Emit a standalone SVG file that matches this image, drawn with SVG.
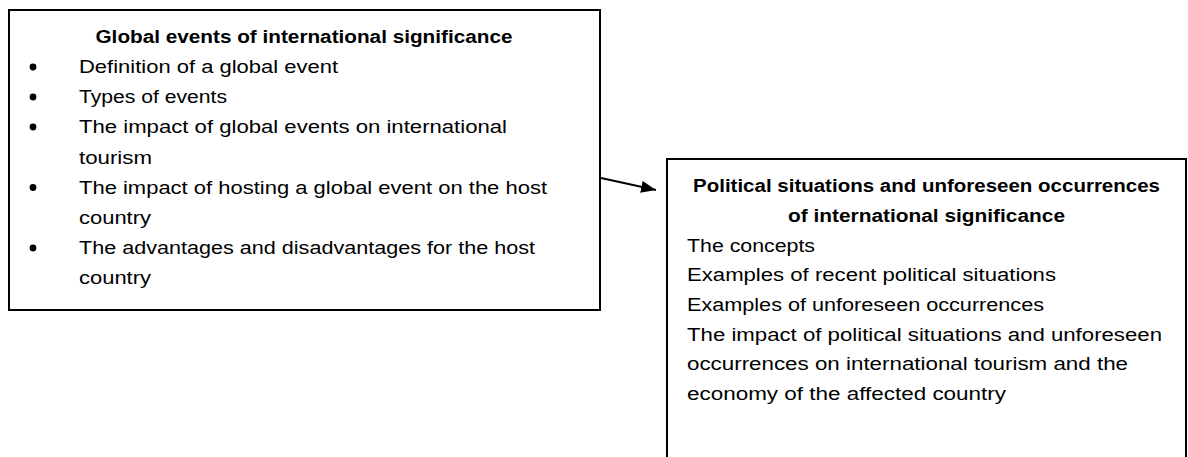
<svg xmlns="http://www.w3.org/2000/svg" width="1188" height="457" viewBox="0 0 1188 457">
<style>
.box{fill:#fff;stroke:#000;stroke-width:2}
.t{font-family:"Liberation Sans",Arial,sans-serif;font-size:17.5px;fill:#000}
.b{font-weight:bold}
.conn{stroke:#000;stroke-width:2;fill:none}
</style>
<defs>
<marker id="ah" markerUnits="userSpaceOnUse" markerWidth="15" markerHeight="12" refX="15" refY="6" orient="auto">
<path d="M0,0 L15,6 L0,12 z" fill="#000"/>
</marker>
</defs>
<rect width="1188" height="457" fill="#fff"/>
<g id="global-events">
<rect class="box" x="9" y="10" width="591" height="300"/>
<text class="t b" x="304" y="43" text-anchor="middle" textLength="417" lengthAdjust="spacingAndGlyphs">Global events of international significance</text>
<g fill="#000">
<circle cx="33" cy="67" r="3.4"/>
<circle cx="33" cy="97" r="3.4"/>
<circle cx="33" cy="127" r="3.4"/>
<circle cx="33" cy="187.5" r="3.4"/>
<circle cx="33" cy="248" r="3.4"/>
</g>
<text class="t" x="79" y="73" textLength="259" lengthAdjust="spacingAndGlyphs">Definition of a global event</text>
<text class="t" x="79" y="103" textLength="148" lengthAdjust="spacingAndGlyphs">Types of events</text>
<text class="t" x="79" y="133" textLength="428" lengthAdjust="spacingAndGlyphs">The impact of global events on international</text>
<text class="t" x="79" y="163.5" textLength="73" lengthAdjust="spacingAndGlyphs">tourism</text>
<text class="t" x="79" y="193.5" textLength="468" lengthAdjust="spacingAndGlyphs">The impact of hosting a global event on the host</text>
<text class="t" x="79" y="223.5" textLength="72" lengthAdjust="spacingAndGlyphs">country</text>
<text class="t" x="79" y="254" textLength="456" lengthAdjust="spacingAndGlyphs">The advantages and disadvantages for the host</text>
<text class="t" x="79" y="284" textLength="72" lengthAdjust="spacingAndGlyphs">country</text>
</g>
<g id="political-situations">
<rect class="box" x="667" y="159" width="519" height="320"/>
<text class="t b" x="926.5" y="192" text-anchor="middle" textLength="467" lengthAdjust="spacingAndGlyphs">Political situations and unforeseen occurrences</text>
<text class="t b" x="926.5" y="221.5" text-anchor="middle" textLength="277" lengthAdjust="spacingAndGlyphs">of international significance</text>
<text class="t" x="687" y="251.5" textLength="128" lengthAdjust="spacingAndGlyphs">The concepts</text>
<text class="t" x="687" y="281" textLength="369" lengthAdjust="spacingAndGlyphs">Examples of recent political situations</text>
<text class="t" x="687" y="311" textLength="357" lengthAdjust="spacingAndGlyphs">Examples of unforeseen occurrences</text>
<text class="t" x="687" y="340.5" textLength="475" lengthAdjust="spacingAndGlyphs">The impact of political situations and unforeseen</text>
<text class="t" x="687" y="370" textLength="441" lengthAdjust="spacingAndGlyphs">occurrences on international tourism and the</text>
<text class="t" x="687" y="400" textLength="319" lengthAdjust="spacingAndGlyphs">economy of the affected country</text>
</g>
<g id="connectors">
<line class="conn" x1="601" y1="178" x2="656" y2="190" marker-end="url(#ah)"/>
</g>
</svg>
